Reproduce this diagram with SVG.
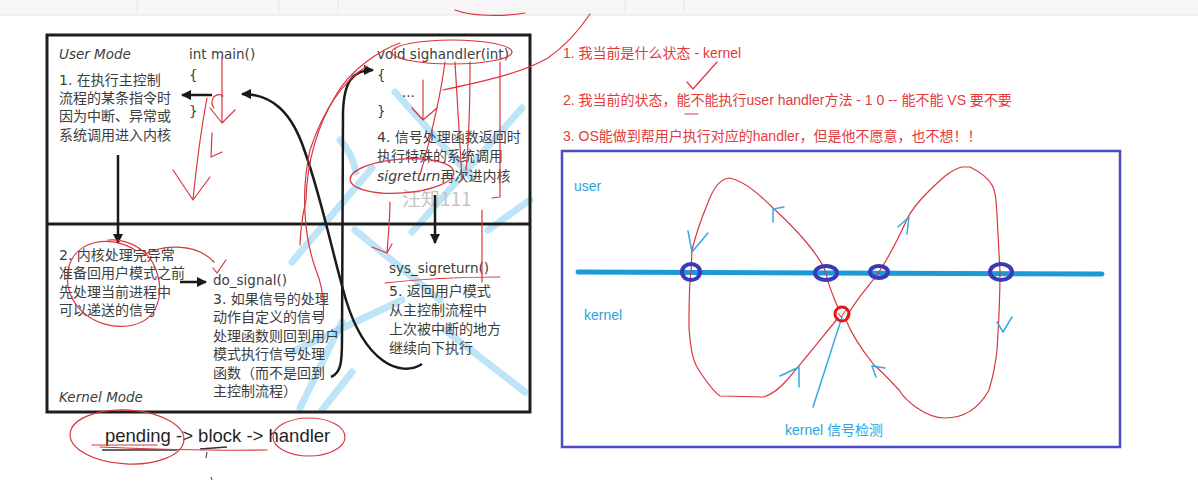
<svg xmlns="http://www.w3.org/2000/svg" width="1198" height="497" viewBox="0 0 1198 497">
<defs>
<style>
.t{font-family:"DejaVu Sans","Noto Sans CJK SC",sans-serif;font-size:13.5px;fill:#3d3d3d}
.c{font-family:"DejaVu Sans","Noto Sans CJK SC",sans-serif;font-size:14px;fill:#3d3d3d}
.it{font-style:italic}
.rt{font-family:"Liberation Sans","Noto Sans CJK SC",sans-serif;font-size:14px;fill:#e23b3b}
.bt{font-family:"Liberation Sans","Noto Sans CJK SC",sans-serif;font-size:14px;fill:#2ba3dc}
.blk{fill:none;stroke:#1a1a1a;stroke-width:2.5}
.red{fill:none;stroke:#d9363e;stroke-width:1.2;stroke-linecap:round;stroke-linejoin:round}
.wm{fill:none;stroke:#7ccaf0;stroke-width:7;stroke-linecap:round;opacity:0.5}
.bm{fill:none;stroke:#35a8e0;stroke-width:1.5;stroke-linecap:round;stroke-linejoin:round}
.ring{fill:none;stroke:#3a3ab8;stroke-width:4}
</style>
<marker id="ah" viewBox="0 0 10 10" refX="9" refY="5" markerWidth="4.2" markerHeight="4.2" orient="auto" markerUnits="strokeWidth">
<path d="M0 0 L10 5 L0 10 z" fill="#1a1a1a"/>
</marker>
</defs>
<rect width="1198" height="497" fill="#ffffff"/>
<g id="toolbar">
<rect x="0" y="0" width="1198" height="15" fill="#f6f6f6"/>
<line x1="0" y1="15" x2="1198" y2="15" stroke="#e4e4e4" stroke-width="1"/>
<g stroke="#e6e6e6" stroke-width="1">
<line x1="137" y1="0" x2="137" y2="13"/><line x1="279" y1="0" x2="279" y2="13"/><line x1="338" y1="0" x2="338" y2="13"/><line x1="625" y1="0" x2="625" y2="13"/><line x1="684" y1="0" x2="684" y2="13"/>
</g>
</g>
<g id="watermark">
<path class="wm" d="M395 92 L472 178"/>
<path class="wm" d="M522 108 L412 232"/>
<path class="wm" d="M292 262 L372 168"/>
<path class="wm" d="M340 140 Q352 152 356 172"/>
<path class="wm" d="M300 408 L342 322"/>
<path class="wm" d="M322 410 L352 372"/>
<path class="wm" d="M355 230 L440 300"/>
<path class="wm" d="M292 352 L402 300"/>
<path class="wm" d="M445 330 L525 392"/>
<path class="wm" d="M488 230 L530 200"/>
<text x="402" y="206" font-family="Noto Sans CJK SC,sans-serif" font-size="19" fill="#c4c4c4">汪知111</text>
</g>
<g id="frame">
<rect x="47" y="35" width="483" height="377" fill="none" stroke="#1e1e1e" stroke-width="3"/>
<line x1="47" y1="224" x2="530" y2="224" stroke="#1e1e1e" stroke-width="3"/>
</g>
<g id="user-mode">
<text class="t it" x="59" y="59">User Mode</text>
</g>
<g id="kernel-mode">
<text class="t it" x="59" y="402">Kernel Mode</text>
</g>
<g id="main">
<text class="t" x="189" y="59">int main()</text>
<text class="t" x="189" y="80">{</text>
<text class="t" x="220" y="97">.</text>
<text class="t" x="189" y="116">}</text>
</g>
<g id="step1">
<text class="c" x="59" y="85">1. 在执行主控制</text>
<text class="c" x="59" y="103">流程的某条指令时</text>
<text class="c" x="59" y="121">因为中断、异常或</text>
<text class="c" x="59" y="140">系统调用进入内核</text>
</g>
<g id="sighandler">
<text class="t" x="377" y="59">void sighandler(int)</text>
<text class="t" x="377" y="80">{</text>
<text class="t" x="402" y="97">...</text>
<text class="t" x="377" y="116">}</text>
</g>
<g id="step4">
<text class="c" x="377" y="142">4. 信号处理函数返回时</text>
<text class="c" x="377" y="161">执行特殊的系统调用</text>
<text class="c" x="377" y="181"><tspan font-style="italic">sigreturn</tspan>再次进内核</text>
</g>
<g id="step2">
<text class="c" x="59" y="260">2. 内核处理完异常</text>
<text class="c" x="59" y="278">准备回用户模式之前</text>
<text class="c" x="59" y="297">先处理当前进程中</text>
<text class="c" x="59" y="315">可以递送的信号</text>
</g>
<g id="do-signal">
<text class="t" x="213" y="285">do_signal()</text>
<text class="c" x="213" y="304">3. 如果信号的处理</text>
<text class="c" x="213" y="322">动作自定义的信号</text>
<text class="c" x="213" y="341">处理函数则回到用户</text>
<text class="c" x="213" y="359">模式执行信号处理</text>
<text class="c" x="213" y="378">函数（而不是回到</text>
<text class="c" x="213" y="396">主控制流程）</text>
</g>
<g id="sys-sigreturn">
<text class="t" x="389" y="273">sys_sigreturn()</text>
<text class="c" x="389" y="296">5. 返回用户模式</text>
<text class="c" x="389" y="315">从主控制流程中</text>
<text class="c" x="389" y="334">上次被中断的地方</text>
<text class="c" x="389" y="353">继续向下执行</text>
</g>
<g id="connectors">
<path class="blk" d="M212 95 L182 95" marker-end="url(#ah)"/>
<path class="blk" d="M118 155 L118 243" marker-end="url(#ah)"/>
<path class="blk" d="M180 282 L206 282" marker-end="url(#ah)"/>
<path class="blk" d="M435 195 L435 243" marker-end="url(#ah)"/>
<path class="blk" d="M422 364 C400 378 365 362 346 300 C332 252 322 200 305 152 C292 112 272 94 242 94" marker-end="url(#ah)"/>
<path class="blk" d="M331 377 C341 373 342 362 342 340 L343 112 C344 82 352 70 373 70" marker-end="url(#ah)"/>
</g>
<g id="formula">
<text x="105" y="442" font-family="Liberation Sans,Noto Sans CJK SC,sans-serif" font-size="18.5" fill="#1f1f1f">pending -&gt; block -&gt; handler</text>
<path d="M102 450 L177 450 M200 449 L227 447" stroke="#333" stroke-width="1.3" fill="none"/>
<path d="M207 452 L206 458 M211 477 L212 480" stroke="#333" stroke-width="1" fill="none"/>
</g>
<g id="annotations">
<path class="red" d="M222 57 L222 123 M210 108 L222 123 L235 110"/>
<path class="red" d="M222 95 C212 93 210 103 214 108 M207 98 C201 130 196 170 193 200 M173 170 L193 200 L210 177"/>
<path class="red" d="M212 133 L211 157 L222 152"/>
<path class="red" d="M135 250 C110 234 74 240 68 270 C62 305 95 330 128 326 C158 322 165 295 156 270 C150 252 130 238 108 240"/>
<path class="red" d="M140 257 C160 244 195 242 214 262 M213 268 L217 273 L226 260"/>
<ellipse class="red" cx="452" cy="52" rx="60" ry="12"/>
<ellipse class="red" cx="402" cy="176" rx="52" ry="17" transform="rotate(-4 402 176)"/>
<path class="red" d="M367 66 C345 80 325 105 310 150 C300 195 305 240 316 270 C322 285 325 300 323 320"/>
<path class="red" d="M400 43 C380 50 350 70 336 95 C318 125 307 160 306 200 C303 215 301 220 300 245"/>
<path class="red" d="M423 80 L423 120 M412 108 L423 120 L437 108"/>
<path class="red" d="M445 62 C440 100 430 140 420 175 M455 62 C458 110 460 150 462 180 M470 62 C470 110 468 150 466 170"/>
<path class="red" d="M500 62 L500 197 L492 198 M482 210 L482 282"/>
<path class="red" d="M390 202 C390 220 388 238 387 253 M372 247 L387 253 L392 244"/>
<path class="red" d="M385 283 C420 279 460 277 500 277"/>
<path class="red" d="M443 90 C480 82 520 74 548 58 C565 46 578 32 590 14"/>
<path class="red" d="M455 10 C470 16 500 17 525 13"/>
<ellipse class="red" cx="127" cy="437" rx="57" ry="27" transform="rotate(3 127 437)"/>
<ellipse class="red" cx="309" cy="437" rx="36" ry="19"/>
<path class="red" d="M92 445 L157 445 M100 447 C150 449 210 451 267 450"/>
</g>
<g id="questions">
<text class="rt" x="563" y="58">1. 我当前是什么状态 - kernel</text>
<text class="rt" x="563" y="105">2. 我当前的状态，能不能执行user handler方法 - 1 0 --  能不能 VS 要不要</text>
<text class="rt" x="563" y="141">3. OS能做到帮用户执行对应的handler，但是他不愿意，也不想！！</text>
<path class="red" d="M687 82 L693 89 L717 62 M685 114 L698 114"/>
</g>
<g id="state-box">
<rect x="562" y="151" width="558" height="296" fill="none" stroke="#4b4bc3" stroke-width="2.5"/>
<line x1="578" y1="272" x2="1102" y2="274" stroke="#1a9ad6" stroke-width="5" stroke-linecap="round"/>
<text class="bt" x="574" y="191">user</text>
<text class="bt" x="584" y="320">kernel</text>
</g>
<g id="path">
<path class="red" d="M838 308 C833 295 828 285 826 273 C820 255 795 228 773 208 C758 193 745 182 730 178 C720 178 713 188 707 205 C700 222 695 238 692 250 L691 272 C689 285 689 300 689 327 C690 345 693 360 697 367 C705 380 712 390 720 396 L764 397 C775 393 781 387 787 380 C800 365 820 340 838 318"/>
<path class="red" d="M846 318 C855 300 870 285 879 272 C890 255 900 235 908 217 C915 205 922 198 927 193 C940 180 950 170 962 167 L970 167 C980 172 988 178 992 185 C996 192 996 200 997 215 L1000 272 C1000 300 999 320 997 350 C995 370 992 380 989 390 C978 410 962 418 945 418 C925 418 905 400 899 390 C888 378 880 370 874 365 C862 350 852 335 846 320"/>
<path class="bm" d="M688 231 L692 252 L708 233"/>
<path class="bm" d="M773 222 L773 209 L784 207"/>
<path class="bm" d="M898 227 L909 217 L907 234"/>
<path class="bm" d="M997 322 L1003 332 L1012 317"/>
<path class="bm" d="M885 368 L872 366 L876 377"/>
<path class="bm" d="M780 376 L799 367 L799 387"/>
<path class="bm" d="M842 317 L813 407"/>
</g>
<g id="crossings">
<ellipse class="ring" cx="691" cy="272" rx="9" ry="8"/>
<ellipse class="ring" cx="826" cy="273" rx="11" ry="7"/>
<ellipse class="ring" cx="879" cy="272" rx="9" ry="6"/>
<ellipse class="ring" cx="1001" cy="272" rx="11" ry="8"/>
</g>
<g id="signal-check">
<circle cx="842" cy="314" r="7" fill="none" stroke="#e01818" stroke-width="3"/>
<path d="M838 313 L841 317 L846 310" fill="none" stroke="#e01818" stroke-width="1"/>
<text class="bt" x="785" y="435">kernel 信号检测</text>
</g>
</svg>
